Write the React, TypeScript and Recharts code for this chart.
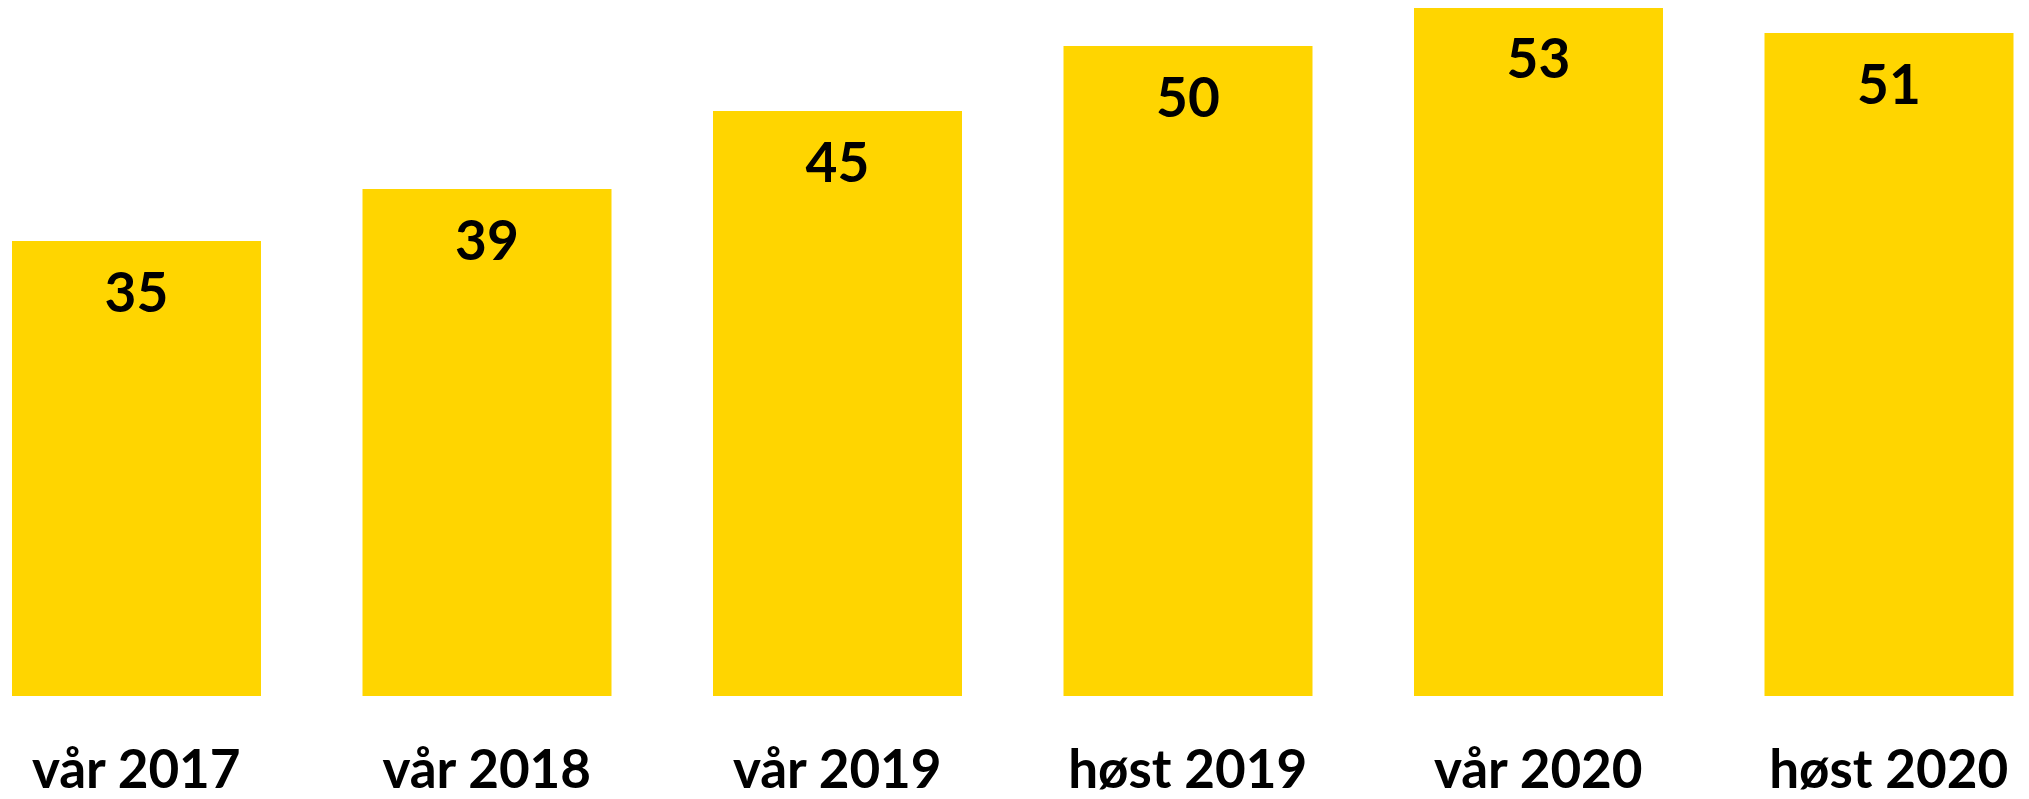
import React from 'react';
import { BarChart, Bar, XAxis, YAxis, LabelList } from 'recharts';

// Semesters and the share shown on each bar
const categories = ['vår 2017', 'vår 2018', 'vår 2019', 'høst 2019', 'vår 2020', 'høst 2020'];
const values = [35, 39, 45, 50, 53, 51];

const BAR_COLOR = '#FFD500';
const FONT = 'Lato, "Open Sans", sans-serif';

const chartData = categories.map((name, i) => ({ name, value: values[i] }));

// Category label under each bar, baseline well below the plot
function CategoryTick(props: any) {
  const { x, y, payload } = props;
  return (
    <text
      x={x}
      y={y + 92}
      textAnchor="middle"
      fill="#000000"
      style={{ fontFamily: FONT, fontWeight: 700, fontSize: 53 }}
    >
      {payload.value}
    </text>
  );
}

// Value printed inside the bar, just under its top edge
function ValueLabel(props: any) {
  const { x, y, width, value } = props;
  return (
    <text
      x={x + width / 2}
      y={y + 71}
      textAnchor="middle"
      fill="#000000"
      style={{ fontFamily: FONT, fontWeight: 700, fontSize: 55 }}
    >
      {value}
    </text>
  );
}

export default function App() {
  return (
    <div style={wrapStyle}>
      <div style={{ position: 'absolute', left: -39, top: 0 }}>
        <BarChart
          width={2103}
          height={799}
          data={chartData}
          margin={{ top: 7, right: 0, left: 0, bottom: 0 }}
          barCategoryGap={51}
        >
          <XAxis
            dataKey="name"
            axisLine={false}
            tickLine={false}
            tickSize={0}
            tickMargin={0}
            height={103}
            interval={0}
            tick={<CategoryTick />}
          />
          <YAxis hide domain={[0, 53]} />
          <Bar dataKey="value" fill={BAR_COLOR} isAnimationActive={false}>
            <LabelList dataKey="value" content={<ValueLabel />} />
          </Bar>
        </BarChart>
      </div>
    </div>
  );
}

const wrapStyle: React.CSSProperties = {
  position: 'relative',
  width: 2029,
  height: 799,
  margin: -8,
  overflow: 'hidden',
  background: '#FFFFFF',
};
